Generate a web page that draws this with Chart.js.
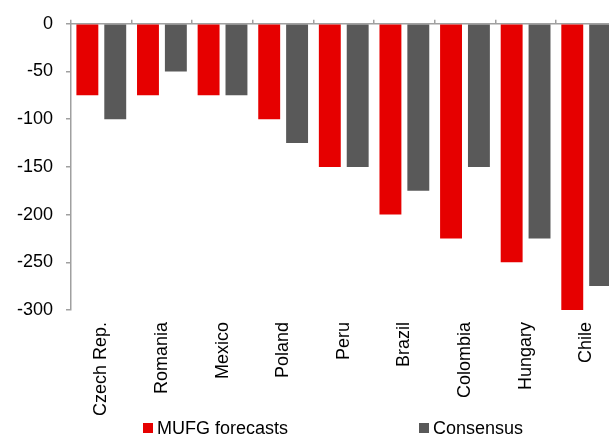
<!DOCTYPE html>
<html>
<head>
<meta charset="utf-8">
<script src="https://cdn.jsdelivr.net/npm/chart.js@4/dist/chart.umd.min.js"></script>
<style>
  html, body { margin: 0; padding: 0; background: #fff; overflow: hidden; }
  #wrap { width: 620px; height: 437px; }
</style>
</head>
<body>
<div id="wrap"><canvas id="chart" width="620" height="437"></canvas></div>
<script>
// data
const countries = ['Czech Rep.', 'Romania', 'Mexico', 'Poland', 'Peru', 'Brazil', 'Colombia', 'Hungary', 'Chile']
const mufg = [-75, -75, -75, -100, -150, -200, -225, -250, -300]
const consensus = [-100, -50, -75, -125, -150, -175, -150, -225, -275]
const seriesNames = ['MUFG forecasts', 'Consensus']

const red = '#e60000'
const grey = '#595959'
const axisGrey = '#a0a0a0'

Chart.defaults.font.family = '"Liberation Sans", Arial, sans-serif'
Chart.defaults.font.size = 18
Chart.defaults.color = '#000'

// legend drawn by hand so the two items sit far apart like the original
const bottomLegend = {
  id: 'bottomLegend',
  afterDraw(chart, args, opts) {
    const ctx = chart.ctx
    ctx.save()
    ctx.font = '18px "Liberation Sans", Arial, sans-serif'
    ctx.textBaseline = 'middle'
    ctx.textAlign = 'left'
    chart.data.datasets.forEach((ds, i) => {
      const x = opts.starts[i]
      ctx.fillStyle = ds.backgroundColor
      ctx.fillRect(x, opts.y - 5, 10, 10)
      ctx.fillStyle = '#000'
      ctx.fillText(ds.label, x + 14, opts.y + 1)
    })
    ctx.restore()
  }
}

new Chart(document.querySelector('#chart'), {
  type: 'bar',
  data: {
    labels: countries,
    datasets: [
      { label: seriesNames[0], data: mufg, backgroundColor: red, xAxisID: 'x' },
      { label: seriesNames[1], data: consensus, backgroundColor: grey, xAxisID: 'x' }
    ]
  },
  plugins: [bottomLegend],
  options: {
    responsive: false,
    animation: false,
    categoryPercentage: 0.92,
    barPercentage: 0.786,
    layout: { padding: { left: 0, right: 0, top: 0, bottom: 9 } },
    plugins: {
      legend: { display: false },
      tooltip: { enabled: false },
      bottomLegend: { starts: [143, 419], y: 428 }
    },
    scales: {
      x: {
        position: 'bottom',
        border: { display: false },
        grid: { display: false, drawTicks: false },
        ticks: { minRotation: 90, maxRotation: 90, padding: 12, autoSkip: false }
      },
      xTop: {
        type: 'category',
        labels: countries,
        position: 'top',
        offset: true,
        border: { display: true, color: axisGrey, width: 1.5 },
        grid: { offset: true, drawOnChartArea: false, drawTicks: true, tickLength: 4, color: axisGrey, lineWidth: 1.5 },
        ticks: { display: false },
        afterFit(scale) { scale.height = 22 }
      },
      y: {
        min: -300,
        max: 0,
        border: { display: true, color: axisGrey, width: 1.5 },
        grid: { drawOnChartArea: false, drawTicks: true, tickLength: 5, color: axisGrey, lineWidth: 1.5 },
        ticks: { stepSize: 50, padding: 13 },
        afterFit(scale) { scale.width = 71 }
      }
    }
  }
})
</script>
</body>
</html>
